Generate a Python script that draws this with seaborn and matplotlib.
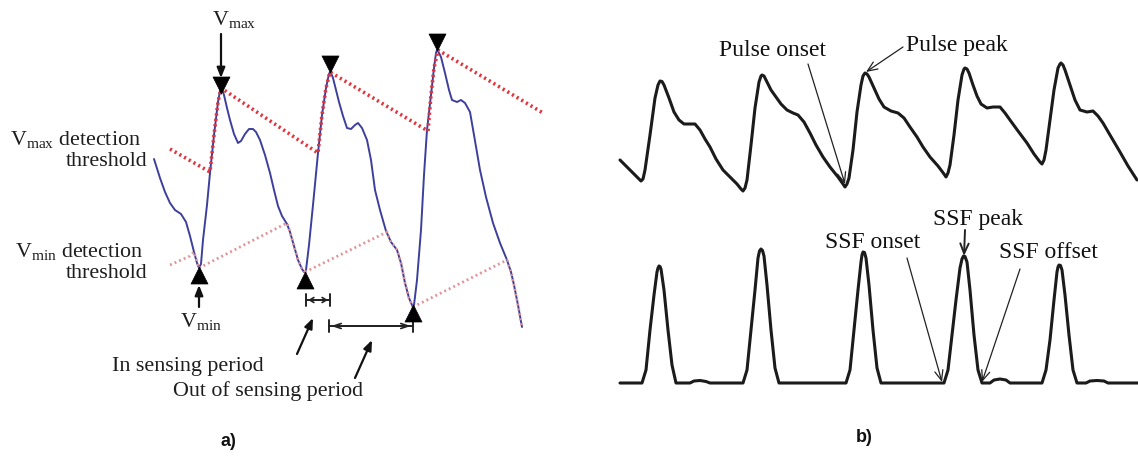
import matplotlib
matplotlib.use("Agg")
import matplotlib.pyplot as plt
import seaborn as sns

# ---------------- panel a: Vmax / Vmin detection scheme ----------------
# pulse waveform (x, y in drawing units, y grows downward)
a_wave_x = [154, 160, 165, 170, 175, 181, 186, 190, 194, 197, 199, 201,
            203, 207, 210, 214, 218, 220, 221, 222,
            224, 227, 230, 234, 238, 241, 245, 249, 253, 256, 260, 265, 270, 274, 278,
            282, 287, 290, 294, 298, 302, 304, 305, 306,
            309, 313, 318, 322, 326, 329, 330, 331,
            333, 336, 339, 343, 347, 351, 355, 358, 362, 367, 371, 375, 380, 386, 391,
            397, 401, 405, 409, 412, 413, 414,
            417, 421, 424, 427, 431, 434, 436, 437, 438,
            441, 445, 449, 452, 457, 461, 465, 470, 474, 480, 486, 493, 500, 507, 511,
            514, 518, 522]
a_wave_y = [159, 178, 192, 203, 210, 214, 222, 236, 252, 263, 268, 264,
            240, 205, 173, 135, 102, 91, 88, 89,
            95, 108, 120, 134, 143, 141, 134, 129, 129, 132, 140, 155, 173, 190, 206,
            216, 224, 232, 246, 260, 269, 272, 272, 270,
            245, 205, 153, 115, 88, 74, 72, 73,
            78, 90, 102, 116, 128, 129, 125, 123, 128, 140, 160, 190, 210, 231, 242,
            250, 263, 283, 298, 305, 307, 305,
            280, 230, 175, 130, 95, 68, 53, 50, 51,
            57, 73, 90, 100, 102, 100, 103, 112, 135, 170, 197, 223, 243, 260, 272,
            285, 305, 327]

# Vmax detection threshold (decaying after each detected maximum)
vmax_thr_x = [170, 210, 214, 218, 221, 318, 322, 326, 330, 428, 431, 434, 438, 543]
vmax_thr_y = [149, 172, 135, 102, 88, 153, 115, 88, 72, 131, 95, 68, 50, 113]

# Vmin detection threshold segments (rising after each detected minimum)
vmin_thr_segments = [
    ([170, 190, 194, 199], [265, 256, 252, 268]),
    ([199, 287, 290, 294, 298, 302, 305], [268, 223, 232, 246, 260, 269, 272]),
    ([305, 387, 391, 397, 401, 405, 409, 413], [272, 232, 242, 250, 263, 283, 298, 307]),
    ([413, 507, 511, 514, 518, 522], [307, 260, 272, 285, 305, 327]),
]

# detected maxima / minima
vmax_x = [221, 330, 437]
vmax_y = [85, 64, 42]
vmin_x = [199, 305, 413]
vmin_y = [275, 280, 313]

# ---------------- panel b: pulse and SSF signals ----------------
b_pulse_x = [620, 630, 638, 641, 643, 645, 650, 655, 658, 660, 662, 664, 669, 674, 679, 684,
             690, 695, 700, 705, 710, 716, 723, 730, 737, 741, 743, 745, 747, 751, 755, 759,
             761, 762, 764, 766, 771, 776, 781, 787, 793, 798, 804, 810, 816, 823, 830, 838,
             843, 845, 847, 849, 853, 857, 861, 863, 865, 867, 869, 874, 879, 884, 891, 898,
             904, 910, 917, 923, 930, 938, 944, 946, 948, 950, 954, 958, 962, 964, 965, 967,
             969, 973, 977, 981, 987, 993, 1000, 1005, 1010, 1018, 1027, 1034, 1040, 1042,
             1044, 1046, 1050, 1054, 1058, 1060, 1061, 1063, 1065, 1070, 1075, 1080, 1087,
             1093, 1098, 1103, 1110, 1120, 1128, 1137]
b_pulse_y = [160, 170, 178, 181, 179, 170, 135, 98, 85, 81, 81.5, 85, 98, 112, 120, 124,
             124, 124, 130, 139, 147, 159, 170, 177, 184, 189, 191, 188, 180, 145, 108, 82,
             76, 75, 76, 80, 90, 97, 104, 110, 113, 115, 122, 133, 145, 157, 167, 177,
             184, 187, 184, 178, 150, 112, 85, 76, 73, 74, 77, 88, 99, 107, 111, 113,
             118, 127, 137, 147, 157, 166, 174, 177, 173, 165, 135, 100, 75, 69, 68, 69,
             73, 85, 96, 104, 108, 107, 107, 113, 120, 131, 143, 154, 162, 164,
             160, 150, 120, 90, 68, 64, 63, 65, 70, 85, 100, 110, 112,
             111, 116, 123, 135, 152, 166, 180]

b_ssf_x = [620, 642, 646, 650, 654, 657, 658, 659, 660, 661, 664, 668, 672, 676, 690, 694,
           700, 706, 710, 743, 747, 751, 755, 758, 759.5, 761, 762.5, 764, 767, 771, 775,
           779, 846, 850, 854, 858, 861, 862, 863, 864.5, 866, 869, 873, 877, 881, 944,
           948, 952, 956, 960, 962, 963.5, 965, 967, 970, 974, 978, 982, 990, 994, 1000,
           1006, 1010, 1042, 1046, 1050, 1054, 1057, 1058, 1059, 1060.5, 1062, 1065, 1069,
           1073, 1077, 1086, 1090, 1097, 1104, 1108, 1138]
b_ssf_y = [383, 383, 370, 330, 295, 272, 268, 266, 266.5, 269, 290, 330, 365, 383, 383, 381,
           380.5, 381.5, 383, 383, 370, 330, 290, 258, 251, 249, 250.5, 256, 285, 330, 368,
           383, 383, 370, 330, 290, 262, 255, 252, 252.5, 258, 285, 330, 368, 383, 383,
           370, 335, 300, 268, 259, 256, 256.5, 262, 290, 335, 370, 383, 383, 380, 379,
           380, 383, 383, 370, 340, 300, 272, 267, 265, 265.5, 270, 295, 335,
           370, 383, 383, 381, 380.5, 381, 383, 383]

# ---------------- styling ----------------
sns.set_theme(style="white")
plt.rcParams["font.family"] = ["Liberation Serif", "DejaVu Serif"]
plt.rcParams["mathtext.fontset"] = "custom"
plt.rcParams["mathtext.rm"] = "Liberation Serif"
plt.rcParams["mathtext.it"] = "Liberation Serif:italic"

WAVE_BLUE = "#3d3f9c"
THR_RED = "#e2343c"
THR_PINK = "#de969a"
ROUND = dict(solid_joinstyle="round", solid_capstyle="round")

fig = plt.figure(figsize=(11.38, 4.57), dpi=100)
fig.patch.set_facecolor("white")
ax = fig.add_axes([0, 0, 1, 1])
ax.set_xlim(0, 1138)
ax.set_ylim(457, 0)
ax.axis("off")

# ---- panel a ----
sns.lineplot(x=a_wave_x, y=a_wave_y, sort=False, estimator=None, ax=ax,
             color=WAVE_BLUE, lw=1.4, zorder=2, **ROUND)
for sx, sy in vmin_thr_segments:
    sns.lineplot(x=sx, y=sy, sort=False, estimator=None, ax=ax, color=THR_PINK,
                 lw=2.0, linestyle=(0, (0.7, 1.1)), zorder=3)
sns.lineplot(x=vmax_thr_x, y=vmax_thr_y, sort=False, estimator=None, ax=ax,
             color=THR_RED, lw=2.6, linestyle=(0, (0.6, 0.9)), zorder=3)
sns.scatterplot(x=vmax_x, y=vmax_y, marker="v", s=150, color="black",
                edgecolor="black", linewidth=0.5, ax=ax, zorder=5)
sns.scatterplot(x=vmin_x, y=vmin_y, marker="^", s=150, color="black",
                edgecolor="black", linewidth=0.5, ax=ax, zorder=5)

txt_a = dict(fontsize=15.8, color="#1e1e1e")
ax.text(141, 140, r"$\mathrm{V}_{\mathrm{max}}$ detection", ha="right", va="center", **txt_a)
ax.text(147, 161, "threshold", ha="right", va="center", **txt_a)
ax.text(143, 251, r"$\mathrm{V}_{\mathrm{min}}$ detection", ha="right", va="center", **txt_a)
ax.text(147, 273, "threshold", ha="right", va="center", **txt_a)
ax.text(234, 20, r"$\mathrm{V}_{\mathrm{max}}$", ha="center", va="center", **txt_a)
ax.text(201, 322, r"$\mathrm{V}_{\mathrm{min}}$", ha="center", va="center", **txt_a)
ax.text(188, 366, "In sensing period", ha="center", va="center", **txt_a)
ax.text(268, 391, "Out of sensing period", ha="center", va="center", **txt_a)

arrow_k = dict(arrowstyle="-|>,head_length=0.5,head_width=0.2", color="#111111",
               lw=1.6, shrinkA=0, shrinkB=0)
ax.annotate("", xy=(221, 78), xytext=(221, 34), arrowprops=arrow_k)
ax.annotate("", xy=(199, 285), xytext=(199, 307), arrowprops=arrow_k)
ax.annotate("", xy=(313, 318), xytext=(297, 354), arrowprops=arrow_k)
ax.annotate("", xy=(372, 340), xytext=(355, 378), arrowprops=arrow_k)

# sensing-period interval markers
for x0, x1, yy, hl in [(306, 330, 300, 0.25), (329, 413, 326, 0.45)]:
    ax.annotate("", xy=(x1, yy), xytext=(x0, yy),
                arrowprops=dict(arrowstyle=f"<->,head_length={hl},head_width=0.15",
                                color="#222222", lw=1.2, shrinkA=1.5, shrinkB=1.5))
    ax.annotate("", xy=(x1, yy), xytext=(x0, yy),
                arrowprops=dict(arrowstyle="|-|,widthA=0.35,widthB=0.35",
                                color="#222222", lw=1.4, shrinkA=0, shrinkB=0))

# ---- panel b ----
sns.lineplot(x=b_pulse_x, y=b_pulse_y, sort=False, estimator=None, ax=ax,
             color="#1b1b1b", lw=2.2, zorder=2, **ROUND)
sns.lineplot(x=b_ssf_x, y=b_ssf_y, sort=False, estimator=None, ax=ax,
             color="#1b1b1b", lw=2.2, zorder=2, **ROUND)

txt_b = dict(fontsize=17, color="#111111")
ax.text(773, 51, "Pulse onset", ha="center", va="center", **txt_b)
ax.text(957, 46, "Pulse peak", ha="center", va="center", **txt_b)
ax.text(873, 242, "SSF onset", ha="center", va="center", **txt_b)
ax.text(978, 220, "SSF peak", ha="center", va="center", **txt_b)
ax.text(1048, 253, "SSF offset", ha="center", va="center", **txt_b)

thin = dict(arrowstyle="->,head_length=0.6,head_width=0.25", color="#222222",
            lw=0.9, shrinkA=0, shrinkB=0)
ax.annotate("", xy=(845, 184), xytext=(808, 64), arrowprops=thin)
ax.annotate("", xy=(866, 72), xytext=(903, 47), arrowprops=thin)
ax.annotate("", xy=(942, 382), xytext=(907, 258), arrowprops=thin)
ax.annotate("", xy=(964, 256), xytext=(965, 230),
            arrowprops=dict(thin, lw=1.4))
ax.annotate("", xy=(982, 382), xytext=(1020, 269), arrowprops=thin)

# panel captions
cap = dict(fontsize=13, fontweight="bold", family=["Liberation Sans", "DejaVu Sans"],
           color="#111111", ha="center", va="center")
ax.text(228, 441, "a)", **cap)
ax.text(864, 437, "b)", **cap)

fig.savefig("out.png", dpi=100, facecolor="white")
